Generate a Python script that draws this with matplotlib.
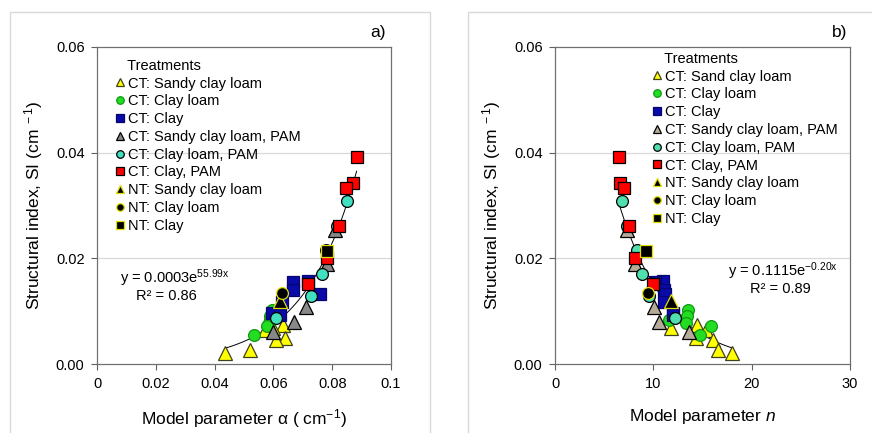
import numpy as np
import matplotlib
matplotlib.use('Agg')
import matplotlib.pyplot as plt
from matplotlib.lines import Line2D
from matplotlib.patches import Rectangle

plt.rcParams['font.family'] = ['Liberation Sans', 'DejaVu Sans']
plt.rcParams['mathtext.fontset'] = 'custom'
plt.rcParams['mathtext.rm'] = 'Liberation Sans'
plt.rcParams['mathtext.it'] = 'Liberation Sans:italic'

# SI values are shared by both panels (same samples), alpha -> panel a, n -> panel b
# CT: sandy clay loam
si_ct_scl = [0.0073, 0.0068, 0.0065, 0.0050, 0.0045, 0.0027, 0.0021]
alpha_ct_scl = [0.0631, 0.0600, 0.0571, 0.0639, 0.0608, 0.0520, 0.0435]
n_ct_scl = [14.4, 11.8, 15.4, 14.3, 16.1, 16.6, 18.0]
# CT: clay loam
si_ct_cl = [0.0102, 0.0090, 0.0084, 0.0077, 0.0072, 0.0055]
alpha_ct_cl = [0.0594, 0.0590, 0.0588, 0.0585, 0.0577, 0.0535]
n_ct_cl = [13.56, 13.4, 11.6, 13.3, 15.9, 14.75]
# CT: clay
si_ct_c = [0.0158, 0.0155, 0.0141, 0.0133, 0.0118, 0.0097, 0.0093]
alpha_ct_c = [0.0719, 0.0668, 0.0668, 0.0759, 0.0628, 0.0594, 0.0622]
n_ct_c = [10.95, 10.2, 11.1, 11.2, 11.1, 12.0, 12.0]
# CT: sandy clay loam, PAM
si_ct_scl_pam = [0.0253, 0.0189, 0.0108, 0.0079, 0.0060]
alpha_ct_scl_pam = [0.0810, 0.0781, 0.0710, 0.0671, 0.0600]
n_ct_scl_pam = [7.29, 8.14, 10.1, 10.6, 13.6]
# CT: clay loam, PAM
si_ct_cl_pam = [0.0309, 0.0262, 0.0215, 0.0170, 0.0129, 0.0088]
alpha_ct_cl_pam = [0.0849, 0.0815, 0.0779, 0.0766, 0.0727, 0.0609]
n_ct_cl_pam = [6.85, 7.3, 8.3, 8.81, 9.59, 12.2]
# CT: clay, PAM
si_ct_c_pam = [0.0391, 0.0342, 0.0333, 0.0261, 0.0201, 0.0152]
alpha_ct_c_pam = [0.0883, 0.0870, 0.0847, 0.0823, 0.0781, 0.0719]
n_ct_c_pam = [6.51, 6.61, 7.02, 7.56, 8.14, 10.0]
# NT
si_nt_scl = [0.0120]
alpha_nt_scl = [0.0622]
n_nt_scl = [11.8]
si_nt_cl = [0.0135]
alpha_nt_cl = [0.0630]
n_nt_cl = [9.49]
si_nt_c = [0.0214]
alpha_nt_c = [0.0781]
n_nt_c = [9.22]

# exponential fits y = c*exp(k*x)
fit_a = (0.00026, 55.99)
fit_b = (0.1115, -0.20)
fit_a_range = (0.0435, 0.0883)
fit_b_range = (6.4, 18.0)

labels_a = ['CT: Sandy clay loam', 'CT: Clay loam', 'CT: Clay', 'CT: Sandy clay loam, PAM',
            'CT: Clay loam, PAM', 'CT: Clay, PAM', 'NT: Sandy clay loam', 'NT: Clay loam', 'NT: Clay']
labels_b = ['CT: Sand clay loam'] + labels_a[1:]

si_all = [si_ct_scl, si_ct_cl, si_ct_c, si_ct_scl_pam, si_ct_cl_pam, si_ct_c_pam,
          si_nt_scl, si_nt_cl, si_nt_c]
alpha_all = [alpha_ct_scl, alpha_ct_cl, alpha_ct_c, alpha_ct_scl_pam, alpha_ct_cl_pam,
             alpha_ct_c_pam, alpha_nt_scl, alpha_nt_cl, alpha_nt_c]
n_all = [n_ct_scl, n_ct_cl, n_ct_c, n_ct_scl_pam, n_ct_cl_pam, n_ct_c_pam,
         n_nt_scl, n_nt_cl, n_nt_c]

# marker, face, edge, size
style_a = [('^', '#ffff00', '#404020', 9.5), ('o', '#22dd22', '#119911', 8.5), ('s', '#0a0aa8', '#05056e', 8.5),
           ('^', '#888888', '#000000', 9.5), ('o', '#40e0c0', '#000000', 8.5), ('s', '#ff0000', '#000000', 8.5),
           ('^', '#000000', '#e0e000', 9.5), ('o', '#000000', '#e0e000', 8.5), ('s', '#000000', '#e0e000', 8.5)]
style_b = list(style_a)
style_b[3] = ('^', '#b5ab98', '#000000', 9.5)
style_b[4] = ('o', '#50e0b0', '#000000', 8.5)

fig = plt.figure(figsize=(8.72, 4.33), dpi=100)

# light panel frames
fig.patches.append(Rectangle((10 / 872, -0.05), 420 / 872, 1.0223, transform=fig.transFigure,
                             fill=False, edgecolor='#d9d9d9', linewidth=1))
fig.patches.append(Rectangle((468 / 872, -0.05), 0.5, 1.0223, transform=fig.transFigure,
                             fill=False, edgecolor='#d9d9d9', linewidth=1))

ax_a = fig.add_axes([97 / 872, 69 / 433, 294 / 872, 317 / 433])
ax_b = fig.add_axes([555 / 872, 69 / 433, 295 / 872, 317 / 433])


def draw_panel(ax, xs_all, styles, labels, fit, frange, xlim, xticks, xticklabels, leg_pos):
    ax.set_axisbelow(True)
    for y in [0.02, 0.04]:
        ax.axhline(y, color='#d9d9d9', linewidth=0.9, zorder=0)
    xf = np.linspace(frange[0], frange[1], 200)
    ax.plot(xf, fit[0] * np.exp(fit[1] * xf), color='black', linewidth=0.7, zorder=1)
    handles = []
    for xs, ys, (m, fc, ec, ms), lab in zip(xs_all, si_all, styles, labels):
        ax.plot(xs, ys, linestyle='none', marker=m, markersize=ms, markerfacecolor=fc,
                markeredgecolor=ec, markeredgewidth=0.9, zorder=2)
        handles.append(Line2D([], [], linestyle='none', marker=m, markersize=ms * 0.64,
                              markerfacecolor=fc, markeredgecolor=ec, markeredgewidth=0.9, label=lab))
    ax.set_xlim(xlim)
    ax.set_ylim(0, 0.06)
    ax.set_xticks(xticks)
    ax.set_xticklabels(xticklabels)
    ax.set_yticks([0, 0.02, 0.04, 0.06])
    ax.set_yticklabels(['0.00', '0.02', '0.04', '0.06'])
    ax.tick_params(direction='out', length=4, width=0.8, color='#606060', labelsize=10.5, pad=5)
    for s in ax.spines.values():
        s.set_color('#707070')
        s.set_linewidth(0.9)
    leg = ax.legend(handles=handles, loc='upper left', bbox_to_anchor=leg_pos, frameon=False,
                    fontsize=10.5, title='   Treatments', title_fontsize=10.5, alignment='left',
                    borderpad=0, borderaxespad=0, handlelength=0.7, handletextpad=0.2,
                    labelspacing=0.26)
    return leg


draw_panel(ax_a, alpha_all, style_a, labels_a, fit_a, fit_a_range, (0, 0.1),
           [0, 0.02, 0.04, 0.06, 0.08, 0.1], ['0', '0.02', '0.04', '0.06', '0.08', '0.1'],
           (0.06, 0.963))
draw_panel(ax_b, n_all, style_b, labels_b, fit_b, fit_b_range, (0, 30),
           [0, 10, 20, 30], ['0', '10', '20', '30'], (0.33, 0.985))

ax_a.set_ylabel('Structural index, SI (cm$\\mathregular{^{\\ -1}}$)', fontsize=12.5, labelpad=8)
ax_b.set_ylabel('Structural index, SI (cm$\\mathregular{^{\\ -1}}$)', fontsize=12.5, labelpad=8)
ax_a.set_xlabel('Model parameter \u03b1 ( cm$\\mathregular{^{-1}}$)', fontsize=12.5, labelpad=12)
ax_b.set_xlabel('Model parameter $\\mathit{n}$', fontsize=12.5, labelpad=12)

ax_a.text(0.078, 0.271, 'y = 0.0003e$\\mathregular{^{55.99x}}$', transform=ax_a.transAxes,
          fontsize=10.5, va='center', ha='left')
ax_a.text(0.132, 0.2145, 'R\u00b2 = 0.86', transform=ax_a.transAxes, fontsize=10.5, va='center', ha='left')
ax_b.text(0.586, 0.292, 'y = 0.1115e$\\mathregular{^{-0.20x}}$', transform=ax_b.transAxes,
          fontsize=10.5, va='center', ha='left')
ax_b.text(0.661, 0.238, 'R\u00b2 = 0.89', transform=ax_b.transAxes, fontsize=10.5, va='center', ha='left')

ax_a.text(0.956, 1.047, 'a)', transform=ax_a.transAxes, fontsize=12.5, ha='center', va='center')
ax_b.text(0.966, 1.047, 'b)', transform=ax_b.transAxes, fontsize=12.5, ha='center', va='center')

fig.savefig('out.png', dpi=100)
